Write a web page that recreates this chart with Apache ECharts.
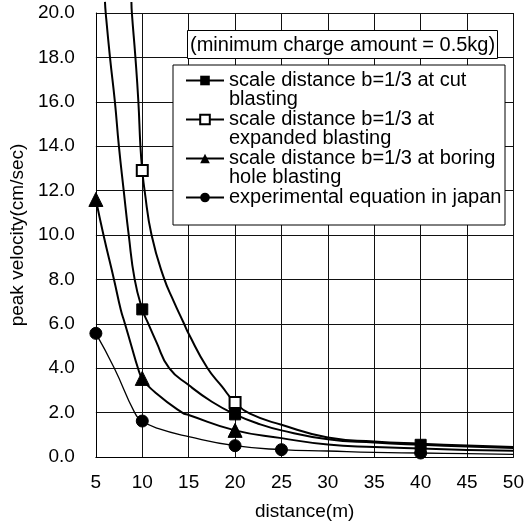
<!DOCTYPE html>
<html>
<head>
<meta charset="utf-8">
<script src="https://cdn.jsdelivr.net/npm/echarts@6/dist/echarts.min.js"></script>
<style>
  html, body { margin: 0; background: #fff; }
  #chart { width: 527px; height: 528px; }
</style>
</head>
<body>
<div id="chart"></div>
<script>
  // values
  const xTicks = [5, 10, 15, 20, 25, 30, 35, 40, 45, 50]

  const cutName = 'scale distance b=1/3 at cut\nblasting'
  const cutX = [5.98, 6.06, 6.52, 7.05, 7.48, 8.0, 8.54, 9.18, 10, 10.6, 11.5, 12.9, 15, 17.5, 20, 22.5, 25, 30, 35, 40, 45, 50]
  const cutY = [20.5, 20, 18, 16, 14, 12, 10, 8, 6.65, 6.05, 5.2, 4.0, 3.24, 2.49, 1.92, 1.5, 1.2, 0.8, 0.65, 0.55, 0.47, 0.4]
  const cutMarks = [10, 20, 40]

  const expName = 'scale distance b=1/3 at\nexpanded blasting'
  const expX = [8.83, 8.88, 9.26, 9.58, 9.8, 10, 10.25, 11.0, 12.3, 13.4, 14.43, 15, 17, 18.6, 20, 21.6, 25, 30, 35, 40, 45, 50]
  const expY = [20.5, 20, 18, 16, 14, 12.9, 12, 10, 8.1, 7.0, 6.07, 5.55, 4.02, 3.17, 2.45, 1.95, 1.45, 0.88, 0.7, 0.6, 0.52, 0.45]
  const expMarks = [10, 20]

  const boreName = 'scale distance b=1/3 at boring\nhole blasting'
  const boreX = [5, 5.82, 6.95, 7.69, 8.1, 8.83, 9.54, 10, 11.5, 14.3, 15, 20, 25, 30, 35, 40, 45, 50]
  const boreY = [11.6, 10, 8, 6.62, 6.05, 5.0, 4.0, 3.54, 2.87, 2.0, 1.89, 1.2, 0.85, 0.56, 0.45, 0.38, 0.32, 0.28]
  const boreMarks = [5, 10, 20]

  const japanName = 'experimental equation in japan'
  const japanX = [5, 6.99, 9.18, 10, 11.67, 15, 20, 25, 30, 35, 40, 45, 50]
  const japanY = [5.57, 4.0, 2.0, 1.62, 1.29, 0.92, 0.51, 0.33, 0.27, 0.21, 0.18, 0.15, 0.12]
  const japanMarks = [5, 10, 20, 25, 40]

  const font = 'Liberation Sans, Arial, sans-serif'
  const chart = echarts.init(document.getElementById('chart'), null, {renderer: 'canvas'})

  function makeSeries (name, xs, ys, marks, symbol, size, width) {
    return {
      name: name,
      type: 'line',
      smooth: 0.5,
      clip: false,
      symbol: symbol,
      symbolSize: size,
      showAllSymbol: true,
      lineStyle: {color: '#000', width: width},
      itemStyle: {color: '#000', borderColor: '#000'},
      emphasis: {disabled: true},
      data: xs.map((x, i) => {
        if (marks.indexOf(x) >= 0) return [x, ys[i]]
        return {value: [x, ys[i]], symbol: 'none'}
      })
    }
  }

  let options = {
    animation: false,
    backgroundColor: '#fff',
    textStyle: {fontFamily: font, color: '#000'},
    grid: {left: 94, right: 10, top: 13, bottom: 71},
    title: {
      text: '(minimum charge amount = 0.5kg)',
      left: 187,
      top: 30,
      padding: [5, 3, 4, 3],
      borderColor: '#000',
      borderWidth: 1,
      backgroundColor: '#fff',
      textStyle: {fontFamily: font, fontSize: 20, fontWeight: 'normal', color: '#000'}
    },
    graphic: [{
      type: 'rect',
      z: 3,
      shape: {x: 173, y: 65, width: 332, height: 160},
      style: {fill: '#fff', stroke: '#000', lineWidth: 1}
    }],
    legend: {
      orient: 'vertical',
      left: 185,
      top: 51.5,
      padding: 0,
      itemGap: -19,
      itemWidth: 38,
      itemHeight: 12,
      selectedMode: false,
      data: [cutName, expName, boreName, japanName],
      // blank first line keeps the icon level with the first text line
      formatter: (name) => '\n' + (name.indexOf('\n') >= 0 ? name : name + '\n'),
      textStyle: {fontFamily: font, fontSize: 20, color: '#000', lineHeight: 19}
    },
    xAxis: {
      type: 'value',
      min: xTicks[0],
      max: xTicks[xTicks.length - 1],
      interval: 5,
      name: 'distance(m)',
      nameLocation: 'middle',
      nameGap: 45,
      nameTextStyle: {fontFamily: font, fontSize: 19, color: '#000'},
      axisLine: {show: true, lineStyle: {color: '#000', width: 1}},
      axisTick: {show: false},
      axisLabel: {fontFamily: font, fontSize: 19, color: '#000', margin: 16},
      splitLine: {show: true, lineStyle: {color: '#111', width: 1}}
    },
    yAxis: {
      type: 'value',
      min: 0,
      max: 20,
      interval: 2,
      name: 'peak velocity(cm/sec)',
      nameLocation: 'middle',
      nameGap: 66,
      nameTextStyle: {fontFamily: font, fontSize: 19, color: '#000'},
      axisLine: {show: true, lineStyle: {color: '#000', width: 1}},
      axisTick: {show: false},
      axisLabel: {fontFamily: font, fontSize: 19, color: '#000', margin: 21, formatter: (v) => v.toFixed(1)},
      splitLine: {show: true, lineStyle: {color: '#111', width: 1}}
    },
    series: [
      makeSeries(cutName, cutX, cutY, cutMarks, 'rect', 11, 2),
      makeSeries(expName, expX, expY, expMarks, 'emptyRect', 11, 2),
      makeSeries(boreName, boreX, boreY, boreMarks, 'triangle', 14, 2),
      makeSeries(japanName, japanX, japanY, japanMarks, 'circle', 12, 1.3)
    ]
  }
  chart.setOption(options)
</script>
</body>
</html>
